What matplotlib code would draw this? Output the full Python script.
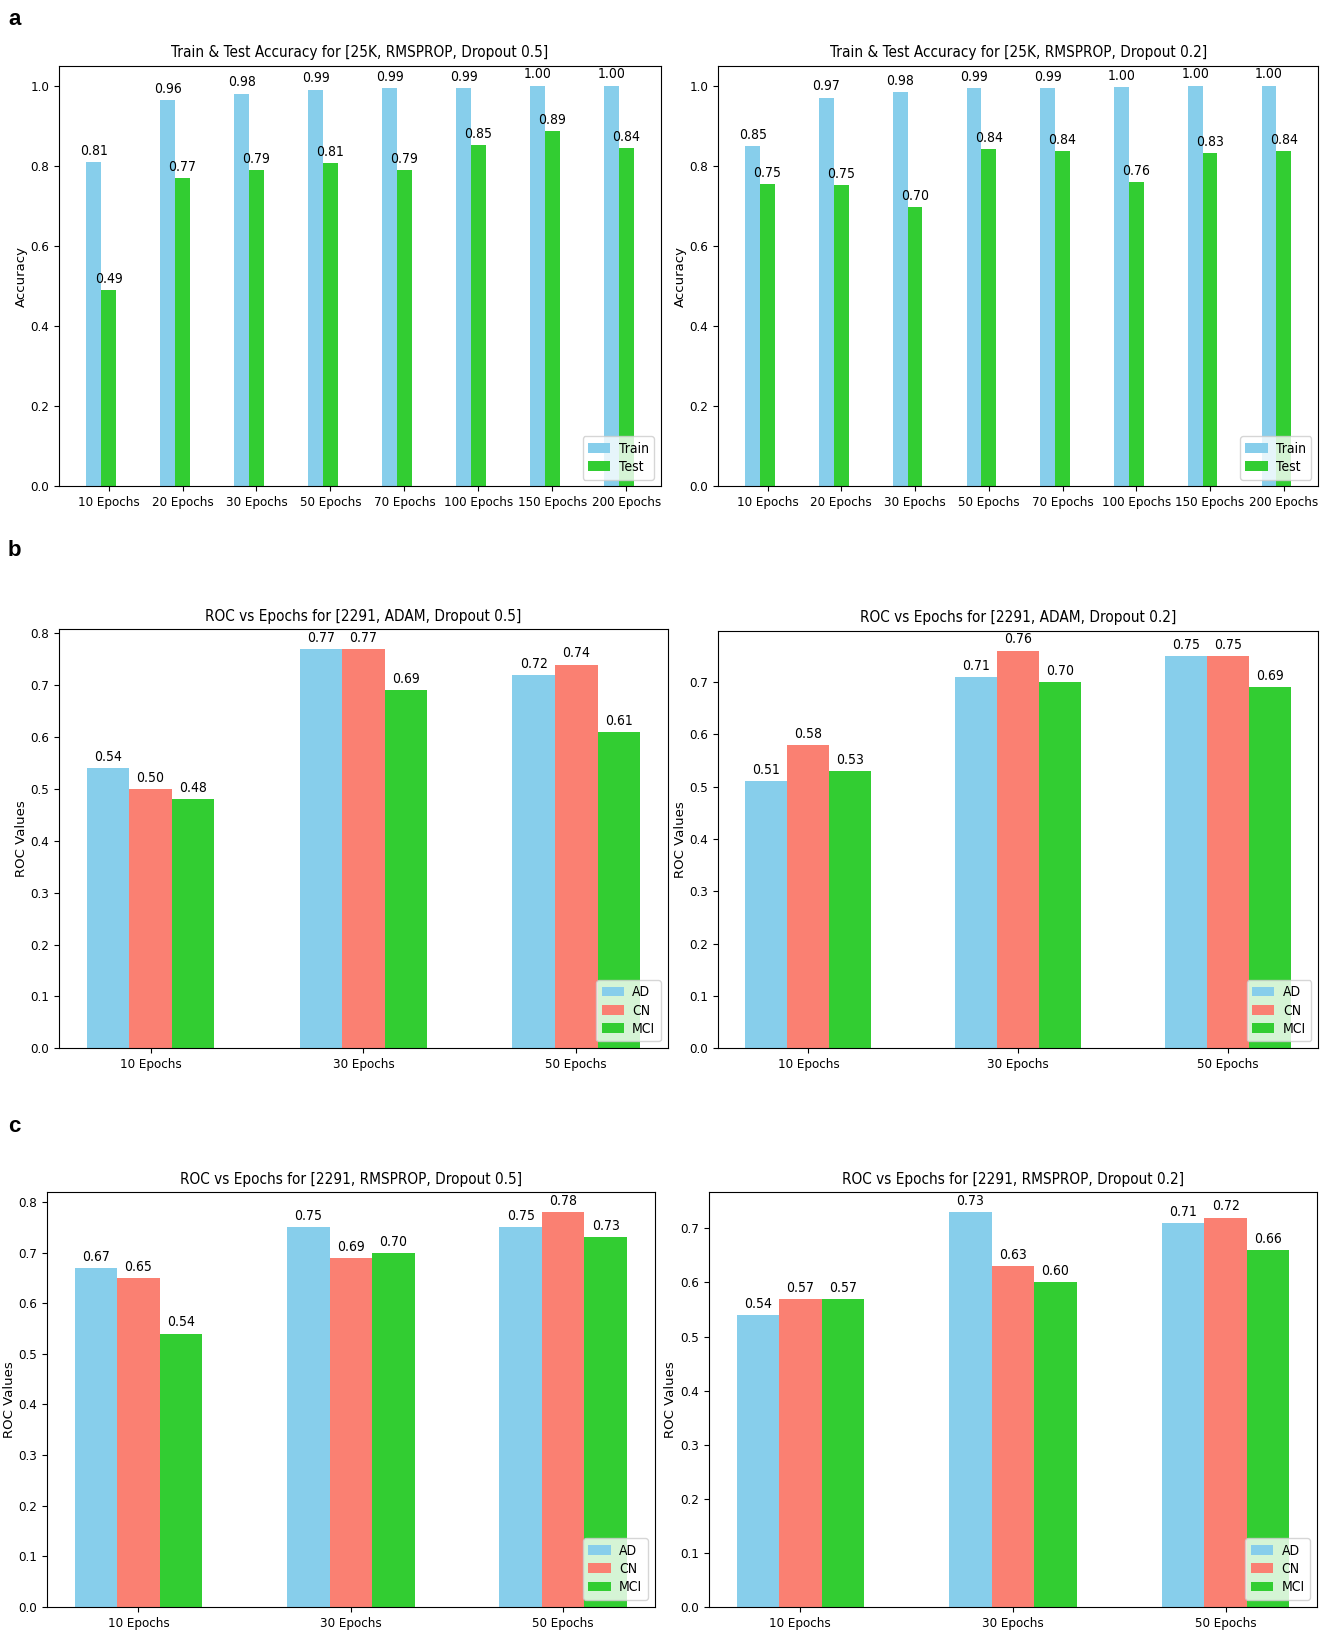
import numpy as np
import matplotlib
matplotlib.use('Agg')
import matplotlib.pyplot as plt

plt.rcParams['font.family'] = ['DejaVu Sans']
plt.rcParams['font.stretch'] = 'condensed'

# panel a: train / test accuracy
epochs_acc = ['10 Epochs', '20 Epochs', '30 Epochs', '50 Epochs',
              '70 Epochs', '100 Epochs', '150 Epochs', '200 Epochs']
train_d05 = [0.81, 0.963, 0.98, 0.99, 0.993, 0.994, 1.00, 1.00]
test_d05 = [0.49, 0.77, 0.79, 0.806, 0.79, 0.851, 0.887, 0.844]
train_d02 = [0.85, 0.97, 0.984, 0.994, 0.994, 0.997, 1.00, 1.00]
test_d02 = [0.754, 0.752, 0.697, 0.841, 0.837, 0.76, 0.832, 0.836]

# panels b, c: ROC per class
epochs_roc = ['10 Epochs', '30 Epochs', '50 Epochs']
classes = ['AD', 'CN', 'MCI']
adam_d05 = {'AD': [0.54, 0.77, 0.72], 'CN': [0.50, 0.77, 0.74], 'MCI': [0.48, 0.69, 0.61]}
adam_d02 = {'AD': [0.51, 0.71, 0.75], 'CN': [0.58, 0.76, 0.75], 'MCI': [0.53, 0.70, 0.69]}
rms_d05 = {'AD': [0.67, 0.75, 0.75], 'CN': [0.65, 0.69, 0.78], 'MCI': [0.54, 0.70, 0.73]}
rms_d02 = {'AD': [0.54, 0.73, 0.71], 'CN': [0.57, 0.63, 0.72], 'MCI': [0.57, 0.60, 0.66]}

COLORS = {'Train': 'skyblue', 'Test': 'limegreen',
          'AD': 'skyblue', 'CN': 'salmon', 'MCI': 'limegreen'}
TICK_FS = 9.5
LBL_FS = 10


def _label_bars(ax, bars):
    for b in bars:
        h = b.get_height()
        ax.annotate(f'{h:.2f}', (b.get_x() + b.get_width() / 2, h),
                    xytext=(0, 3), textcoords='offset points',
                    ha='center', va='bottom', fontsize=LBL_FS)


def _style(ax, title, ylabel, labels, x):
    ax.set_title(title, fontsize=11, pad=6)
    ax.set_ylabel(ylabel, fontsize=9.5, fontstretch='normal', labelpad=2)
    ax.set_xticks(x)
    ax.set_xticklabels(labels, fontsize=TICK_FS)
    ax.tick_params(axis='y', labelsize=TICK_FS)
    ax.legend(loc='lower right', fontsize=10, handlelength=1.6,
              handletextpad=0.6, borderpad=0.4, labelspacing=0.3)


def plot_accuracy(ax, train, test, title):
    x = np.arange(len(epochs_acc))
    w = 0.2
    b1 = ax.bar(x - w, train, w, color=COLORS['Train'], label='Train')
    b2 = ax.bar(x, test, w, color=COLORS['Test'], label='Test')
    _label_bars(ax, b1)
    _label_bars(ax, b2)
    _style(ax, title, 'Accuracy', epochs_acc, x)


def plot_roc(ax, data, title):
    x = np.arange(len(epochs_roc))
    w = 0.2
    for i, c in enumerate(classes):
        bars = ax.bar(x + (i - 1) * w, data[c], w, color=COLORS[c], label=c)
        _label_bars(ax, bars)
    _style(ax, title, 'ROC Values', epochs_roc, x)


fig = plt.figure(figsize=(13.25, 16.38), dpi=100)

ax1 = fig.add_axes([0.0445, 0.703, 0.4545, 0.257])
ax2 = fig.add_axes([0.542, 0.703, 0.453, 0.257])
ax3 = fig.add_axes([0.0445, 0.360, 0.4595, 0.256])
ax4 = fig.add_axes([0.542, 0.360, 0.453, 0.255])
ax5 = fig.add_axes([0.0355, 0.019, 0.4585, 0.253])
ax6 = fig.add_axes([0.535, 0.019, 0.459, 0.253])

plot_accuracy(ax1, train_d05, test_d05, 'Train & Test Accuracy for [25K, RMSPROP, Dropout 0.5]')
plot_accuracy(ax2, train_d02, test_d02, 'Train & Test Accuracy for [25K, RMSPROP, Dropout 0.2]')
plot_roc(ax3, adam_d05, 'ROC vs Epochs for [2291, ADAM, Dropout 0.5]')
plot_roc(ax4, adam_d02, 'ROC vs Epochs for [2291, ADAM, Dropout 0.2]')
plot_roc(ax5, rms_d05, 'ROC vs Epochs for [2291, RMSPROP, Dropout 0.5]')
plot_roc(ax6, rms_d02, 'ROC vs Epochs for [2291, RMSPROP, Dropout 0.2]')

for letter, y in [('a', 0.988), ('b', 0.664), ('c', 0.312)]:
    fig.text(0.006, y, letter, fontsize=16, fontweight='bold', fontstretch='normal',
             family=['Liberation Sans', 'DejaVu Sans'], va='center')

fig.savefig('out.png', dpi=100)
